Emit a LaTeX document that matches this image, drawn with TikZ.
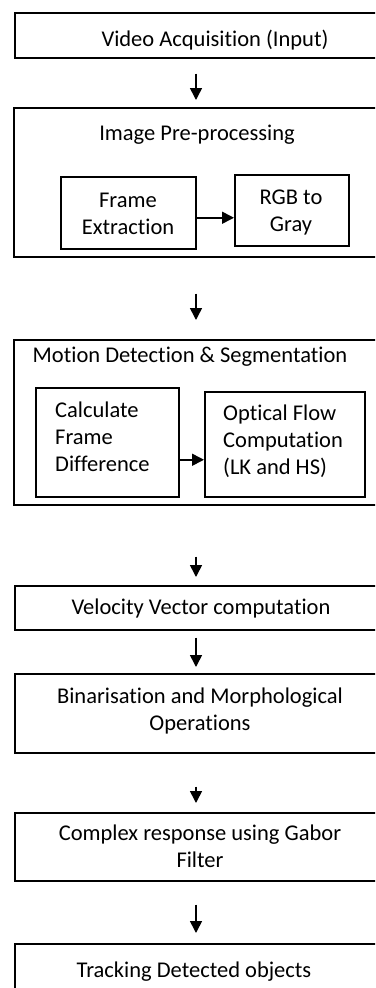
\documentclass[tikz,border=0pt]{standalone}
\usepackage{fontspec}
\setmainfont{Carlito}[Ligatures=NoCommon]
\usetikzlibrary{arrows.meta}
\begin{document}
\begin{tikzpicture}[x=1pt,y=-1pt,
  box/.style={draw=black, line width=1.5pt, inner sep=0pt, anchor=north west},
  lbl/.style={font=\fontsize{22.5}{27}\selectfont, inner sep=0pt, anchor=base, align=center},
  lbll/.style={font=\fontsize{22.5}{27}\selectfont, inner sep=0pt, anchor=base west, align=left},
  arr/.style={line width=1.6pt, -{Triangle[length=12pt,width=12pt]}},
]
\useasboundingbox (0,0) rectangle (375,988);
\clip (0,0) rectangle (375,988);
\coordinate (col) at (196,0);
% boxes
\node[box, minimum width=420pt, minimum height=45pt]  (b1)  at (14,12)  {};
\node[box, minimum width=420pt, minimum height=149pt] (b2)  at (13,107) {};
\node[box, minimum width=135pt, minimum height=72pt]  (fe)  at (60,176) {};
\node[box, minimum width=114pt, minimum height=71pt]  (rg)  at (234,174) {};
\node[box, minimum width=420pt, minimum height=165pt] (b3)  at (13,339) {};
\node[box, minimum width=143pt, minimum height=109pt] (cfd) at (35,387) {};
\node[box, minimum width=160pt, minimum height=105pt] (of)  at (204,391) {};
\node[box, minimum width=420pt, minimum height=44pt]  (b4)  at (14,585) {};
\node[box, minimum width=420pt, minimum height=79pt]  (b5)  at (14,673) {};
\node[box, minimum width=420pt, minimum height=68pt]  (b6)  at (14,812) {};
\node[box, minimum width=420pt, minimum height=80pt]  (b7)  at (14,943) {};
% labels (base anchor = baseline of the last line)
\node[lbl] (t1) at (215,46) {Video Acquisition (Input)};
\node[lbl] (t2) at (197,140) {Image Pre-processing};
\node[lbl] (tfe) at (128,234) {Frame\\Extraction};
\node[lbl] (trg) at (291,231) {RGB to\\Gray};
\node[lbl] (t3) at (190,362) {Motion Detection \& Segmentation};
\node[lbll] (tcfd) at (55,471) {Calculate\\Frame\\Difference};
\node[lbll] (tof) at (223,474) {Optical Flow\\Computation\\(LK and HS)};
\node[lbl] (t4) at (201,614) {Velocity Vector computation};
\node[lbl] (t5) at (200,730) {Binarisation and Morphological\\Operations};
\node[lbl] (t6) at (200,867) {Complex response using Gabor\\Filter};
\node[lbl] (t7) at (194,977) {Tracking Detected objects};
% connectors
\draw[arr, shorten <=15pt, shorten >=7pt]  (b1.south -| col) -- (b2.north -| col);
\draw[arr, shorten <=36pt, shorten >=19pt] (b2.south -| col) -- (b3.north -| col);
\draw[arr, shorten <=51pt, shorten >=8pt]  (b3.south -| col) -- (b4.north -| col);
\draw[arr, shorten <=7pt, shorten >=6pt]   (b4.south -| col) -- (b5.north -| col);
\draw[arr, shorten <=33pt, shorten >=9pt]  (b5.south -| col) -- (b6.north -| col);
\draw[arr, shorten <=23pt, shorten >=10pt] (b6.south -| col) -- (b7.north -| col);
\draw[arr] ([yshift=-5pt]fe.east) -- ([yshift=-5pt]fe.east -| rg.west);
\draw[arr] ([yshift=-17.5pt]cfd.east) -- ([yshift=-17.5pt]cfd.east -| of.west);
\end{tikzpicture}
\end{document}
